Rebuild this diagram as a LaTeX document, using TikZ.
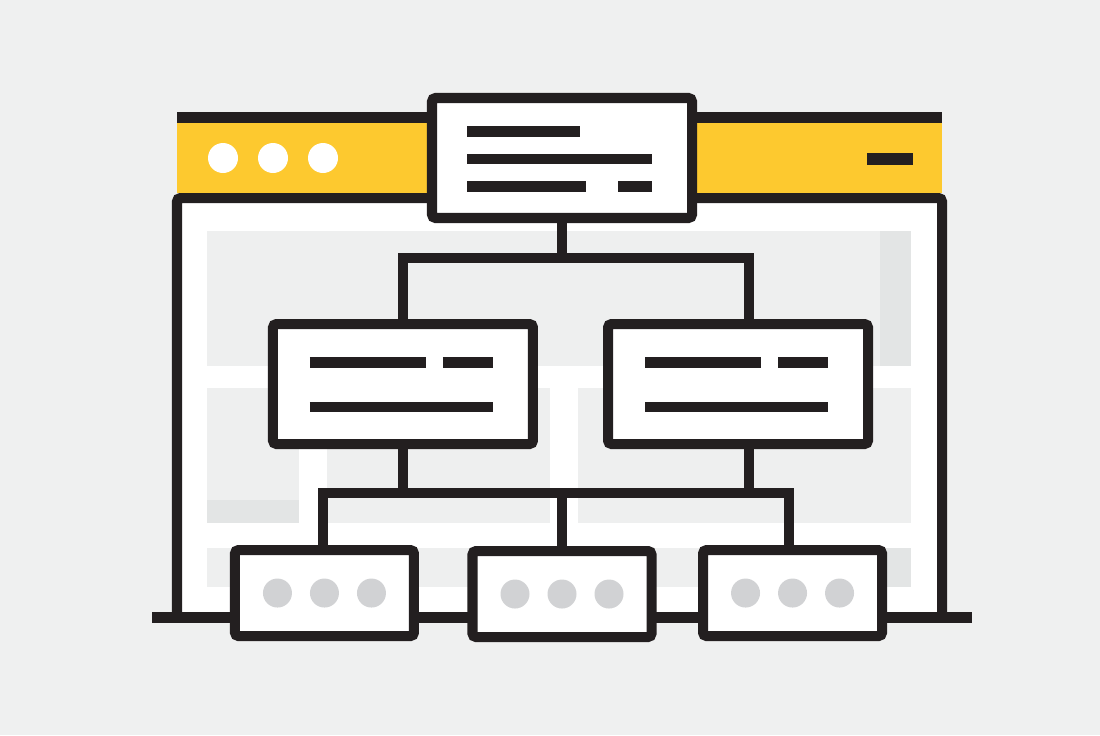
\documentclass[tikz,border=0pt]{standalone}
\usetikzlibrary{positioning}

\definecolor{pagebg}{HTML}{EFF0F0}
\definecolor{panel}{HTML}{EEEFEF}
\definecolor{panelshade}{HTML}{E3E5E5}
\definecolor{baryellow}{HTML}{FDC92F}
\definecolor{ink}{HTML}{231F20}
\definecolor{dotgray}{HTML}{D1D2D4}

\begin{document}
\begin{tikzpicture}[
  card/.style={rectangle, draw=ink, fill=white, line width=2.85pt, rounded corners=1pt, inner sep=0pt, minimum width=2.6cm, minimum height=1.2cm},
  leaf/.style={card, minimum width=1.79cm, minimum height=0.86cm},
  wire/.style={draw=ink, line width=2.85pt},
  textbar/.style={draw=ink, line width=3.1pt},
  grayspot/.style={fill=dotgray}
]

% Fondo
\useasboundingbox (0,0) rectangle (11,7.35);
\fill[pagebg] (0,0) rectangle (11,7.35);

% Ventana
\fill[white] (1.77,1.175) rectangle (9.42,5.37);
\fill[panel] (2.07,3.69) rectangle (9.11,5.04);
\fill[panelshade] (8.80,3.69) rectangle (9.11,5.04);
\fill[panel] (2.07,2.12) rectangle (2.99,3.47);
\fill[panelshade] (2.07,2.12) rectangle (2.99,2.35);
\fill[panel] (3.27,2.12) rectangle (5.50,3.47);
\fill[panel] (5.78,2.12) rectangle (9.11,3.47);
\fill[panel] (2.07,1.48) rectangle (9.11,1.87);
\fill[panelshade] (8.80,1.48) rectangle (9.11,1.87);
\draw[ink, line width=2.85pt, rounded corners=1pt] (1.77,1.175) rectangle (9.42,5.37);
\fill[baryellow] (1.77,5.42) rectangle (9.42,6.12);
\fill[ink] (1.77,6.12) rectangle (9.42,6.23);
\foreach \x in {2.23,2.73,3.23}
  \fill[white] (\x,5.77) circle (0.15);
\fill[ink] (8.67,5.70) rectangle (9.13,5.82);
\draw[ink, line width=3pt] (1.52,1.175) -- (9.72,1.175);

% Cajas
\node[card] (root) at (5.62,5.77) {};
\node[card, below left=0.96cm and -1.11cm of root] (leftpage) {};
\node[card, below right=0.96cm and -0.94cm of root] (rightpage) {};
\node[leaf, below left=0.96cm and -1.51cm of leftpage] (leafa) {};
\node[leaf, below=3.23cm of root] (leafb) {};
\node[leaf, below right=0.96cm and -1.75cm of rightpage] (leafc) {};

% Conexiones
\coordinate (upper) at (5.62,4.77);
\coordinate (lower) at (5.62,2.42);
\draw[wire] (root) -- (upper);
\draw[wire] (leftpage.north) |- (upper) -| ([xshift=1.05mm]rightpage.north);
\draw[wire] (leftpage.south) |- (lower);
\draw[wire] ([xshift=1.05mm]rightpage.south) |- (lower);
\draw[wire] ([xshift=-0.15mm]leafa.north) |- (lower) -| ([xshift=-0.4mm]leafc.north);
\draw[wire] (lower) -- (leafb.north);

% Lineas de texto
\draw[textbar] ([shift={(-0.95,0.265)}]root.center) -- ++(1.13,0);
\draw[textbar] ([shift={(-0.95,-0.01)}]root.center) -- ++(1.85,0);
\draw[textbar] ([shift={(-0.95,-0.285)}]root.center) -- ++(1.19,0);
\draw[textbar] ([shift={(0.56,-0.285)}]root.center) -- ++(0.34,0);
\foreach \p in {leftpage,rightpage} {
  \draw[textbar] ([shift={(-0.93,0.215)}]\p.center) -- ++(1.16,0);
  \draw[textbar] ([shift={(0.40,0.215)}]\p.center) -- ++(0.50,0);
  \draw[textbar] ([shift={(-0.93,-0.23)}]\p.center) -- ++(1.83,0);
}

% Puntos
\foreach \l in {leafa,leafb,leafc}
  \foreach \dx in {-0.47,0,0.47}
    \fill[grayspot] ([xshift=\dx cm]\l.center) circle (0.145);

\end{tikzpicture}
\end{document}
